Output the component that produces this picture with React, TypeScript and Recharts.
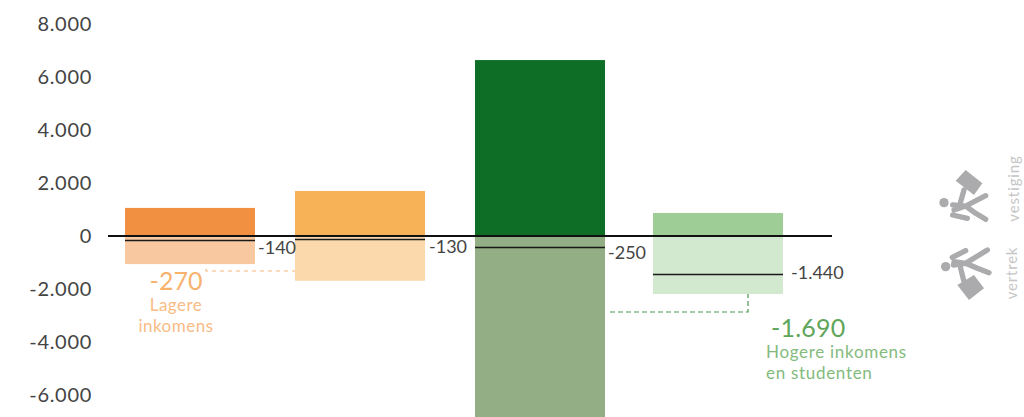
import React from "react";
import { ComposedChart, Bar, Line, Cell, XAxis, YAxis, ReferenceLine, Customized } from "recharts";

const categories = ["Lagere inkomens a", "Lagere inkomens b", "Middeninkomens", "Hogere inkomens en studenten"];
const vestiging = [1060, 1700, 6640, 870];
const vertrek = [-1060, -1690, -6890, -2190];
const saldo = [-150, -115, -410, -1440];
const saldoLabels = ["-140", "-130", "-250", "-1.440"];
const yTicks = [8000, 6000, 4000, 2000, 0, -2000, -4000, -6000];

const inColors = ["#F29042", "#F7B257", "#0F6E25", "#9FCD96"];
const outColors = ["#F8C8A0", "#FBD9AC", "#93AD84", "#D2E8CF"];
const nudge = [2, -4, 0, 2];
const labelDx = [3, 4, 3, 8];
const labelDy = [7, 7, 5, -2];

const FONT = "Lato, 'Open Sans', sans-serif";
const data = categories.map((c, i) => ({ c, vestiging: vestiging[i], vertrek: vertrek[i], saldo: saldo[i] }));

const NudgedBar = (p: any) => (
  <rect
    x={p.x + nudge[p.index]}
    y={Math.min(p.y, p.y + p.height)}
    width={p.width}
    height={Math.abs(p.height)}
    fill={p.fill}
  />
);

const SaldoMark = (p: any) => {
  const x = p.cx + nudge[p.index];
  const y = Math.round(p.cy) + 0.5;
  return (
    <g key={p.index}>
      <line x1={x - 65} x2={x + 65} y1={y} y2={y} stroke="#1A1A1A" strokeWidth={1.3} />
      <text x={x + 65 + labelDx[p.index]} y={y + labelDy[p.index] - 1} dominantBaseline="central" fontFamily={FONT} fontSize={18} fontWeight={400} fill="#444">
        {saldoLabels[p.index]}
      </text>
    </g>
  );
};

const figure = { stroke: "#ABABAD", strokeLinecap: "round" as const, strokeLinejoin: "round" as const, fill: "none" };

const Annotations = () => (
  <g fontFamily={FONT}>
    <path d="M206 269V271H295" fill="none" stroke="#F8B87A" strokeWidth={1.2} strokeDasharray="4 4" />
    <path d="M610 312H748V292" fill="none" stroke="#4F9550" strokeWidth={1.2} strokeDasharray="5 3" />
    <text x={176} y={279.5} textAnchor="middle" dominantBaseline="central" fontSize={25} fontWeight={400} fill="#F7B36E">-270</text>
    <text x={176} y={304} textAnchor="middle" dominantBaseline="central" fontSize={17} fontWeight={400} letterSpacing={0.5} fill="#F9BC85">Lagere</text>
    <text x={176} y={325} textAnchor="middle" dominantBaseline="central" fontSize={17} fontWeight={400} letterSpacing={0.5} fill="#F9BC85">inkomens</text>
    <text x={771} y={326.5} dominantBaseline="central" fontSize={25} fontWeight={400} letterSpacing={0.2} fill="#5FA55A">-1.690</text>
    <text x={766} y={351} dominantBaseline="central" fontSize={17} fontWeight={400} letterSpacing={0.7} fill="#83BB7E">Hogere inkomens</text>
    <text x={766} y={372} dominantBaseline="central" fontSize={17} fontWeight={400} letterSpacing={0.7} fill="#83BB7E">en studenten</text>
    <text transform="translate(1013 188.5) rotate(-90)" textAnchor="middle" dominantBaseline="central" fontSize={15} fontWeight={400} letterSpacing={0.9} fill="#C6C6C6">vestiging</text>
    <text transform="translate(1011 273) rotate(-90)" textAnchor="middle" dominantBaseline="central" fontSize={15} fontWeight={400} letterSpacing={0.8} fill="#C6C6C6">vertrek</text>
    <g transform="translate(924 150) scale(0.3333)">
      <circle cx={60} cy={158} r={14} fill="#ABABAD" />
      <path d="M86 165L125 168L185 137M125 168L155 190L185 208M86 195L130 205M90 180L125 168M110 155L120 120" {...figure} strokeWidth={16} />
      <path d="M125 60L175 100L150 135L95 92Z" fill="#ABABAD" />
      <circle cx={65} cy={350} r={14} fill="#ABABAD" />
      <path d="M88 345L125 340L190 300M125 340L160 355L195 368M85 322L125 302M90 335L125 340M110 355L120 395" {...figure} strokeWidth={16} />
      <path d="M100 405L150 375L180 415L135 450Z" fill="#ABABAD" />
    </g>
  </g>
);

export default function App() {
  return (
    <div style={{ position: "absolute", left: 0, top: 0, width: 1024, height: 417, overflow: "hidden", background: "#fff" }}>
      <ComposedChart width={1024} height={417} data={data} stackOffset="sign" margin={{ top: 0, right: 192, bottom: 0, left: 0 }} barSize={130}>
        <XAxis dataKey="c" hide padding={{ left: -8, right: 28 }} />
        <YAxis
          width={108}
          domain={[-6830, 8906]}
          allowDataOverflow
          ticks={yTicks}
          interval={0}
          axisLine={false}
          tickLine={false}
          tickSize={0}
          tickMargin={16}
          tickFormatter={(v: number) => v.toLocaleString("de-DE")}
          tick={{ fontFamily: FONT, fontSize: 20, fontWeight: 400, fill: "#444", letterSpacing: 0.7 }}
        />
        <Bar dataKey="vestiging" stackId="a" isAnimationActive={false} shape={NudgedBar}>
          {categories.map((c, i) => <Cell key={c} fill={inColors[i]} />)}
        </Bar>
        <Bar dataKey="vertrek" stackId="a" isAnimationActive={false} shape={NudgedBar}>
          {categories.map((c, i) => <Cell key={c} fill={outColors[i]} />)}
        </Bar>
        <ReferenceLine y={0} stroke="#111" strokeWidth={2} />
        <Line dataKey="saldo" stroke="none" isAnimationActive={false} dot={SaldoMark} activeDot={false} />
        <Customized component={Annotations} />
      </ComposedChart>
    </div>
  );
}
